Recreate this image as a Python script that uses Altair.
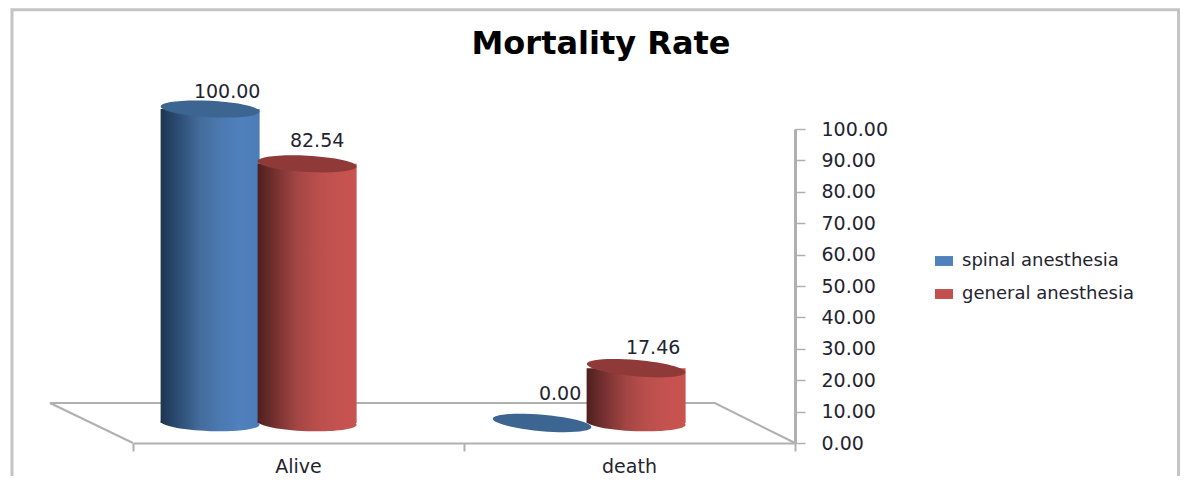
import altair as alt
import pandas as pd

categories = ["Alive", "death"]
series_names = ["spinal anesthesia", "general anesthesia"]
spinal_values = [100.00, 0.00]
general_values = [82.54, 17.46]
y_ticks = [0, 10, 20, 30, 40, 50, 60, 70, 80, 90, 100]

PX_X = 331.0
FONT = "DejaVu Sans"
GRAY = "#b0b0b0"
TEXT = "#1f2430"
BASE_SHIFT = -20
ELLIPSE = "M-1,0A1,0.165 0 1 1 1,0A1,0.165 0 1 1 -1,0Z"
ELLIPSE_SIZE = 99 ** 2


def grad(stops):
    n = len(stops) - 1
    return alt.Gradient(
        gradient="linear", x1=0, x2=1, y1=0, y2=0,
        stops=[alt.GradientStop(offset=i / n, color=c) for i, c in enumerate(stops)],
    )


blue_grad = grad(["#1d3550", "#2f5078", "#446c9c", "#4b79b0", "#4f81bd", "#4b7cb6"])
red_grad = grad(["#4e1f1f", "#7a3332", "#a34644", "#b94f4c", "#c4524f", "#c8534f"])
BLUE_TOP = "#3c6592"
RED_TOP = "#8f3a39"

xs = alt.Scale(domain=[0, 2], nice=False, zero=False, padding=0)
ys = alt.Scale(domain=[0, 100], nice=False, zero=False, clamp=False, padding=0)
x_axis = alt.Axis(orient="bottom", values=[0, 1, 2], labels=False, grid=False, title=None,
                  domainColor=GRAY, domainWidth=2, tickColor=GRAY, tickWidth=2, tickSize=8)
y_axis = alt.Axis(orient="right", values=y_ticks, grid=False, format=".2f", title=None,
                  domainColor=GRAY, domainWidth=3, tickColor=GRAY, tickWidth=1.5, tickSize=10,
                  labelPadding=16, labelFont=FONT, labelFontSize=19, labelColor=TEXT)
X = lambda f: alt.X(f, type="quantitative", scale=xs, axis=x_axis)
Y = lambda f: alt.Y(f, type="quantitative", scale=ys, axis=y_axis)


def line(xv, yv, width=2, color=GRAY):
    d = pd.DataFrame({"x": xv, "y": yv, "o": range(len(xv))})
    return alt.Chart(d).mark_line(color=color, strokeWidth=width, clip=False).encode(
        x=X("x"), y=Y("y"), order=alt.Order("o:Q")
    )


frame = line([-0.3656, -0.3656, 3.1586, 3.1586], [-14, 138, 138, -14], width=3, color="#c4c4c4")
floor = line([0, -0.2508, 1.758, 2], [0, 12.74, 12.74, 0], width=2)

cat_labels = alt.Chart(pd.DataFrame({"c": categories, "x": [0.5, 1.5], "y": [0, 0]})).mark_text(
    font=FONT, fontSize=19, color=TEXT, dy=24, align="center", baseline="middle"
).encode(x=X("x"), y=Y("y"), text="c:N")


def cylinder(group, dodge_px, value, side, top, tilt, label_dx, label_dy):
    d = pd.DataFrame({"x": [group + 0.378 + dodge_px / PX_X], "v": [value], "z": [0.0],
                      "t": [f"{value:.2f}"]})
    base = alt.Chart(d)
    bottom = base.mark_point(shape=ELLIPSE, size=ELLIPSE_SIZE, filled=True, fill=side, opacity=1,
                             strokeWidth=0, angle=2, yOffset=BASE_SHIFT).encode(x=X("x"), y=Y("z"))
    body = base.mark_bar(size=99, orient="vertical", fill=side, yOffset=BASE_SHIFT,
                         y2Offset=BASE_SHIFT).encode(x=X("x"), y=Y("v"), y2=alt.Y2("z"))
    cap = base.mark_point(shape=ELLIPSE, size=ELLIPSE_SIZE, filled=True, fill=top, opacity=1,
                          strokeWidth=0, angle=tilt, yOffset=BASE_SHIFT).encode(x=X("x"), y=Y("v"))
    label = base.mark_text(font=FONT, fontSize=19, color=TEXT, dx=label_dx, dy=label_dy + BASE_SHIFT,
                           align="center", baseline="middle").encode(x=X("x"), y=Y("v"), text="t:N")
    parts = [bottom] if value > 0 else []
    if value > 0:
        parts.append(body)
    parts += [cap, label]
    return parts


layers = [frame, floor, cat_labels]
layers += cylinder(1, -47, spinal_values[1], blue_grad, BLUE_TOP, 5, 18, -29)
layers += cylinder(0, -48, spinal_values[0], blue_grad, BLUE_TOP, 3, 17, -17)
layers += cylinder(0, 49, general_values[0], red_grad, RED_TOP, 3, 10, -23)
layers += cylinder(1, 47, general_values[1], red_grad, RED_TOP, 5, 17, -20)

legend_layer = alt.Chart(pd.DataFrame({"s": series_names, "x": [0, 0], "y": [0, 0]})).mark_point(
    opacity=0, filled=True
).encode(
    x=X("x"), y=Y("y"),
    color=alt.Color("s:N", sort=series_names,
                    scale=alt.Scale(domain=series_names, range=["#4f81bd", "#c0504d"]),
                    legend=alt.Legend(
                        orient="none", legendX=802, legendY=123, title=None,
                        symbolType="M-1,-0.55H1V0.55H-1Z", symbolSize=324, symbolOpacity=1,
                        symbolStrokeWidth=0, labelFont=FONT, labelFontSize=18, labelColor=TEXT,
                        labelOffset=9, rowPadding=15, labelLimit=260)),
)
layers.append(legend_layer)

chart = alt.layer(*layers).properties(
    width=662, height=314,
    padding={"left": 125, "top": 121, "right": 385, "bottom": 33},
    autosize=alt.AutoSizeParams(type="none"),
    title=alt.TitleParams("Mortality Rate", anchor="middle", dx=137, offset=-57,
                          font=FONT, fontSize=32, fontWeight="bold", color="#000000"),
).configure_view(stroke=None)

chart.save("out.html", embed_options={"renderer": "svg", "actions": False})
